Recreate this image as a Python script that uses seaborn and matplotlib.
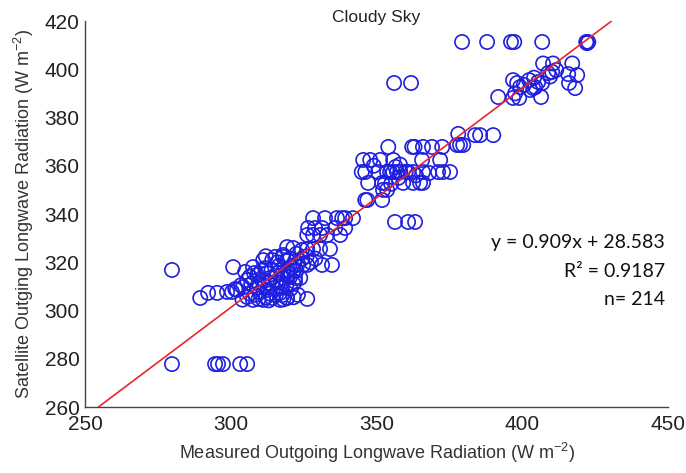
import matplotlib
matplotlib.use("Agg")
import matplotlib.pyplot as plt
import seaborn as sns
import numpy as np
import pandas as pd
from matplotlib.ticker import MultipleLocator

# Measured vs. satellite-derived outgoing longwave radiation (W m-2), cloudy-sky cases
measured_olr = [
    379.3, 387.9, 396.1, 397.2, 406.8, 421.9, 422.6, 422.2,
    356.0, 361.8,
    407.1, 410.5, 417.1,
    396.8, 398.2, 399.2, 402.3, 403.7, 405.4, 406.8, 408.8, 410.2, 411.6,
    415.7, 418.8, 416.0, 418.1, 391.7, 396.8, 398.9, 406.4, 402.7, 404.4,
    400.5, 409.5, 397.5, 404.0,
    390.0, 385.5, 383.8, 378.0,
    377.6, 378.6, 379.7,
    354.0, 362.2, 363.0, 365.9, 369.0, 372.5,
    345.4, 347.8, 351.2, 355.7, 365.6, 371.8,
    344.9, 346.1, 350.5, 353.6, 354.6, 355.7, 357.0, 358.1, 360.8, 362.5,
    365.9, 371.1, 372.8, 375.2,
    347.1, 351.9, 352.9, 359.1, 362.5, 364.9, 365.9,
    352.2, 353.6,
    346.1, 346.8, 351.9,
    349.0, 357.5, 360.0, 356.5, 363.5, 368.0, 355.0, 358.0,
    356.3, 360.8, 363.2,
    328.2, 332.3, 336.4, 338.2, 339.2, 341.9,
    326.5, 328.9, 331.3, 335.8, 339.2,
    326.2, 328.2, 330.6, 333.0, 337.5,
    321.4, 324.4, 326.2, 328.2, 330.6, 334.0,
    317.9, 319.3, 320.3,
    324.8, 326.2, 331.3, 334.7,
    317.9, 320.3, 322.0, 323.8,
    317.6, 319.3, 326.2,
    279.8, 279.8, 294.6, 295.6, 297.3, 303.2, 305.6,
    289.5, 292.2, 295.3, 298.7, 300.4, 301.5, 300.8,
    304.9, 305.6, 307.6, 309.0, 311.1, 311.8, 314.2, 315.2, 317.9, 319.3,
    305.6, 307.6, 311.1, 314.2, 316.9, 319.3, 304.2, 309.0, 312.5, 314.6,
    316.9, 302.1, 303.5, 310.7, 313.5, 315.9, 318.0,
    306.5, 308.3, 310.0, 312.0, 313.5, 315.5, 317.5, 319.0, 320.5, 321.5,
    322.5, 323.0, 321.0, 319.5, 316.5, 314.0, 312.5, 310.5, 308.0, 306.5,
    307.0, 309.5, 311.5, 313.0, 315.5, 317.0, 319.5, 322.0, 324.5, 326.0,
    327.5, 329.0, 320.0, 321.5, 322.0, 322.5, 304.0, 309.5, 313.0, 318.0,
    321.5, 323.0, 316.0, 312.0,
]
satellite_olr = [
    411.3, 411.3, 411.3, 411.3, 411.3, 411.3, 411.3, 410.8,
    394.3, 394.3,
    402.4, 402.4, 402.4,
    395.5, 394.3, 392.6, 395.5, 392.2, 394.7, 394.3, 398.4, 398.9, 399.7,
    398.0, 397.6, 394.3, 392.2, 388.5, 388.1, 388.1, 388.5, 391.4, 392.6,
    393.5, 397.0, 390.0, 396.5,
    372.7, 372.7, 372.7, 373.2,
    368.6, 368.6, 368.6,
    367.8, 367.8, 367.8, 367.8, 367.8, 367.8,
    362.4, 362.4, 362.4, 362.4, 362.4, 362.4,
    357.4, 357.4, 357.4, 357.4, 357.4, 357.4, 357.4, 357.4, 357.4, 357.4,
    357.4, 357.4, 357.4, 357.4,
    352.9, 352.9, 352.9, 352.9, 352.9, 352.9, 352.9,
    350.0, 350.0,
    345.8, 345.8, 345.8,
    360.0, 355.0, 357.5, 359.5, 356.0, 357.0, 352.5, 360.5,
    336.7, 336.7, 336.7,
    338.3, 338.3, 338.3, 338.3, 338.3, 338.3,
    334.2, 334.2, 334.2, 334.2, 334.2,
    331.3, 331.3, 331.3, 331.3, 331.3,
    325.9, 325.1, 325.5, 325.5, 325.5, 325.5,
    322.2, 320.9, 321.5,
    318.9, 318.9, 318.9, 318.9,
    316.0, 313.9, 313.5, 313.5,
    306.4, 305.2, 304.8,
    316.8, 277.8, 277.8, 277.8, 277.8, 277.8, 277.8,
    305.2, 307.3, 307.3, 307.7, 307.7, 308.9, 318.0,
    316.0, 312.6, 318.0, 314.7, 320.9, 317.6, 320.9, 322.2, 323.0, 326.3,
    305.6, 304.4, 304.4, 305.2, 304.4, 305.2, 309.7, 309.3, 308.5, 309.3,
    307.3, 308.5, 310.5, 312.6, 313.5, 315.6, 313.5,
    307.0, 306.5, 307.5, 305.5, 307.0, 306.5, 309.5, 310.5, 309.0, 311.0,
    316.5, 319.5, 318.0, 317.0, 318.5, 317.0, 315.5, 316.5, 315.5, 314.0,
    311.0, 311.5, 310.5, 311.5, 312.0, 311.5, 314.0, 320.5, 321.5, 322.5,
    320.0, 321.5, 315.0, 316.5, 312.0, 323.5, 304.5, 304.8, 304.2, 304.6,
    305.5, 306.5, 320.0, 322.5,
]

# Least-squares fit reported on the chart
slope = 0.909
intercept = 28.583
r_squared = 0.9187
n_obs = len(measured_olr)

x_ticks = [250, 300, 350, 400, 450]
y_ticks = [260, 280, 300, 320, 340, 360, 380, 400, 420]

df = pd.DataFrame({"measured": measured_olr, "satellite": satellite_olr})

sns.set_style("white")
plt.rcParams["font.family"] = ["Liberation Sans", "DejaVu Sans"]
plt.rcParams["mathtext.fontset"] = "custom"
plt.rcParams["mathtext.rm"] = "Liberation Sans"
plt.rcParams["mathtext.it"] = "Liberation Sans:italic"
plt.rcParams["mathtext.bf"] = "Liberation Sans:bold"

fig = plt.figure(figsize=(6.86, 4.73), dpi=100)
ax = fig.add_axes([0.124, 0.1395, 0.850, 0.8161])

sns.scatterplot(data=df, x="measured", y="satellite", ax=ax,
                marker="o", s=105, facecolors="none",
                edgecolor="#1f1fe0", linewidth=1.2, legend=False, zorder=3)

# Regression line, clipped to the plotted y-range
x_lo = (y_ticks[0] - intercept) / slope
x_hi = (y_ticks[-1] - intercept) / slope
xl = np.array([x_lo, x_hi])
ax.plot(xl, slope * xl + intercept, color="#e8262b", linewidth=1.2, zorder=4)

ax.set_xlim(x_ticks[0], x_ticks[-1])
ax.set_ylim(y_ticks[0], y_ticks[-1])
ax.set_xticks(x_ticks)
ax.set_yticks(y_ticks)
ax.xaxis.set_minor_locator(MultipleLocator(10))
ax.yaxis.set_minor_locator(MultipleLocator(10))
ax.tick_params(axis="both", which="major", direction="in", length=5, width=1,
               color="#444444", labelsize=15, labelcolor="#222222", pad=4)
ax.tick_params(axis="x", which="major", pad=6)
ax.tick_params(axis="both", which="minor", direction="in", length=3, width=0.8,
               color="#444444")

for side in ("top", "right"):
    ax.spines[side].set_visible(False)
for side in ("left", "bottom"):
    ax.spines[side].set_color("#444444")
    ax.spines[side].set_linewidth(1.0)

ax.set_xlabel("Measured Outgoing Longwave Radiation (W m$^{-2}$)",
              fontsize=13, color="#333333", labelpad=5)
ax.set_ylabel("Satellite Outging Longwave Radiation (W m$^{-2}$)",
              fontsize=13, color="#333333", labelpad=6)

ax.text(0.5, 1.008, "Cloudy Sky", transform=ax.transAxes, ha="center",
        va="center", fontsize=12.5, color="#222222")

stats_font = dict(family=["Lato", "DejaVu Sans"], fontsize=14, color="#111111",
                  ha="right", va="center", transform=ax.transAxes)
ax.text(0.995, 0.425, f"y = {slope:.3f}x + {intercept:.3f}", **stats_font)
ax.text(0.995, 0.352, f"R\u00b2 = {r_squared:.4f}", **stats_font)
ax.text(0.995, 0.279, f"n= {n_obs}", **stats_font)

fig.savefig("out.png", dpi=100)
